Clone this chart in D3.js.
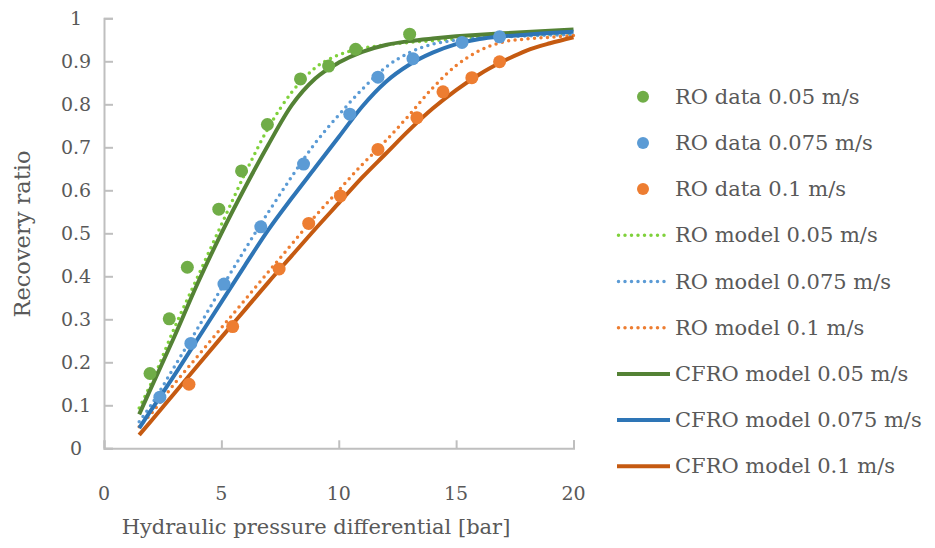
<!DOCTYPE html>
<html>
<head>
  <title>Recovery ratio vs hydraulic pressure differential</title>
  <style>
    body { margin: 0; background: #fff; }
    svg text { font-family: "DejaVu Serif", serif; fill: #595959; }
  </style>
  <script src="https://d3js.org/d3.v7.min.js"></script>
</head>
<body>
  <div id="chart"></div>

  <script>
    // measured data points
    var roData005X = [1.96, 2.78, 3.55, 4.89, 5.86, 6.96, 8.37, 9.57, 10.72, 13.02];
    var roData005Y = [0.174, 0.301, 0.421, 0.556, 0.645, 0.753, 0.859, 0.889, 0.928, 0.963];
    var roData0075X = [2.38, 3.70, 5.11, 6.68, 8.50, 10.47, 11.67, 13.16, 15.25, 16.85];
    var roData0075Y = [0.119, 0.244, 0.382, 0.515, 0.661, 0.777, 0.863, 0.906, 0.944, 0.957];
    var roData01X = [3.62, 5.48, 7.46, 8.72, 10.07, 11.67, 13.33, 14.44, 15.67, 16.85];
    var roData01Y = [0.149, 0.283, 0.417, 0.523, 0.587, 0.695, 0.769, 0.829, 0.862, 0.899];

    // model curves, sampled at these pressures
    var modelX = [1.5, 2, 3, 4, 5, 6, 7, 8, 9, 10, 11, 12, 13, 14, 15, 16, 17, 18, 19, 20];
    var roModel005 = [0.094, 0.15, 0.28, 0.40, 0.52, 0.638, 0.745, 0.828, 0.885, 0.915, 0.93, 0.938, 0.944, 0.948, 0.952, 0.955, 0.958, 0.961, 0.963, 0.965];
    var roModel0075 = [0.062, 0.10, 0.19, 0.28, 0.372, 0.462, 0.549, 0.632, 0.71, 0.775, 0.835, 0.886, 0.92, 0.94, 0.949, 0.954, 0.957, 0.959, 0.961, 0.962];
    var roModel01 = [0.05, 0.08, 0.15, 0.215, 0.28, 0.345, 0.41, 0.475, 0.54, 0.60, 0.66, 0.715, 0.775, 0.838, 0.89, 0.925, 0.945, 0.952, 0.956, 0.96];
    var cfroModel005 = [0.079, 0.14, 0.26, 0.385, 0.50, 0.606, 0.706, 0.798, 0.86, 0.897, 0.922, 0.938, 0.947, 0.953, 0.958, 0.962, 0.965, 0.968, 0.971, 0.974];
    var cfroModel0075 = [0.047, 0.088, 0.17, 0.255, 0.34, 0.425, 0.508, 0.582, 0.653, 0.724, 0.795, 0.852, 0.892, 0.92, 0.94, 0.952, 0.958, 0.962, 0.966, 0.969];
    var cfroModel01 = [0.031, 0.063, 0.128, 0.193, 0.258, 0.322, 0.386, 0.448, 0.51, 0.57, 0.63, 0.685, 0.74, 0.79, 0.833, 0.87, 0.90, 0.925, 0.942, 0.956];

    var xTicks = [0, 5, 10, 15, 20];
    var yTicks = [0, 0.1, 0.2, 0.3, 0.4, 0.5, 0.6, 0.7, 0.8, 0.9, 1];

    var svg = d3.select("#chart")
      .append("svg")
      .attr("width", 935)
      .attr("height", 548);

    var xScale = d3.scaleLinear().domain([0, 20]).range([104, 573.5]);
    var yScale = d3.scaleLinear().domain([0, 1]).range([448.3, 18.3]);

    // axes
    var axisColor = "#bfbfbf";
    var xAxis = svg.append("g")
      .attr("transform", "translate(0,448.3)")
      .call(d3.axisBottom(xScale).tickValues(xTicks).tickSize(-8).tickFormat(""));
    var yAxis = svg.append("g")
      .attr("transform", "translate(104,0)")
      .call(d3.axisLeft(yScale).tickValues(yTicks).tickSize(-9).tickFormat(""));
    [xAxis, yAxis].forEach(function(a) {
      a.select(".domain").attr("stroke", axisColor).attr("stroke-width", 2);
      a.selectAll(".tick line").attr("stroke", axisColor).attr("stroke-width", 2);
    });

    svg.selectAll(".xlab")
      .data(xTicks)
      .enter()
      .append("text")
      .attr("x", function(d) { return xScale(d); })
      .attr("y", 500)
      .attr("text-anchor", "middle")
      .style("font-size", "19px")
      .text(function(d) { return d; });

    svg.selectAll(".ylab")
      .data(yTicks)
      .enter()
      .append("text")
      .attr("x", 76)
      .attr("y", function(d) { return yScale(d) + 7; })
      .attr("text-anchor", "middle")
      .style("font-size", "19px")
      .text(function(d) { return d; });

    svg.append("text")
      .attr("x", 316)
      .attr("y", 534)
      .attr("text-anchor", "middle")
      .style("font-size", "21px")
      .text("Hydraulic pressure differential [bar]");

    svg.append("text")
      .attr("transform", "translate(30,234) rotate(-90)")
      .attr("text-anchor", "middle")
      .style("font-size", "22.5px")
      .text("Recovery ratio");

    var line = d3.line()
      .x(function(d) { return xScale(d[0]); })
      .y(function(d) { return yScale(d[1]); })
      .curve(d3.curveMonotoneX);

    var series = [
      { name: "RO data 0.05 m/s", type: "dot", color: "#70ad47", x: roData005X, y: roData005Y },
      { name: "RO data 0.075 m/s", type: "dot", color: "#5b9bd5", x: roData0075X, y: roData0075Y },
      { name: "RO data 0.1 m/s", type: "dot", color: "#ed7d31", x: roData01X, y: roData01Y },
      { name: "RO model 0.05 m/s", type: "dotted", color: "#7fd13b", x: modelX, y: roModel005 },
      { name: "RO model 0.075 m/s", type: "dotted", color: "#5b9bd5", x: modelX, y: roModel0075 },
      { name: "RO model 0.1 m/s", type: "dotted", color: "#ed7d31", x: modelX, y: roModel01 },
      { name: "CFRO model 0.05 m/s", type: "solid", color: "#548235", x: modelX, y: cfroModel005 },
      { name: "CFRO model 0.075 m/s", type: "solid", color: "#2e75b6", x: modelX, y: cfroModel0075 },
      { name: "CFRO model 0.1 m/s", type: "solid", color: "#c55a11", x: modelX, y: cfroModel01 }
    ];

    function styleLine(sel, s) {
      sel.attr("fill", "none")
        .attr("stroke", s.color)
        .attr("stroke-width", s.type == "solid" ? 4 : 3.5)
        .attr("stroke-linecap", s.type == "solid" ? "butt" : "round")
        .attr("stroke-dasharray", s.type == "solid" ? null : "0,6.5");
    }

    // draw in Excel's order: lines then markers on top
    series.filter(function(s) { return s.type != "dot"; }).forEach(function(s) {
      var pts = s.x.map(function(x, i) { return [x, s.y[i]]; });
      svg.append("path").datum(pts).attr("d", line).call(styleLine, s);
    });
    series.filter(function(s) { return s.type == "dot"; }).forEach(function(s) {
      var pts = s.x.map(function(x, i) { return [x, s.y[i]]; });
      svg.append("g").selectAll("circle")
        .data(pts)
        .enter()
        .append("circle")
        .attr("cx", function(d) { return xScale(d[0]); })
        .attr("cy", function(d) { return yScale(d[1]); })
        .attr("r", 6.5)
        .style("fill", s.color);
    });

    // legend
    var legend = svg.append("g");
    series.forEach(function(s, i) {
      var y = 96.7 + i * 46.2;
      if (s.type == "dot") {
        legend.append("circle").attr("cx", 643).attr("cy", y).attr("r", 6).style("fill", s.color);
      } else {
        legend.append("line")
          .attr("x1", s.type == "solid" ? 617 : 618.5).attr("x2", 670)
          .attr("y1", y).attr("y2", y)
          .call(styleLine, s);
      }
      legend.append("text")
        .attr("x", 675)
        .attr("y", y + 7)
        .style("font-size", "21px")
        .text(s.name);
    });
  </script>
</body>
</html>
